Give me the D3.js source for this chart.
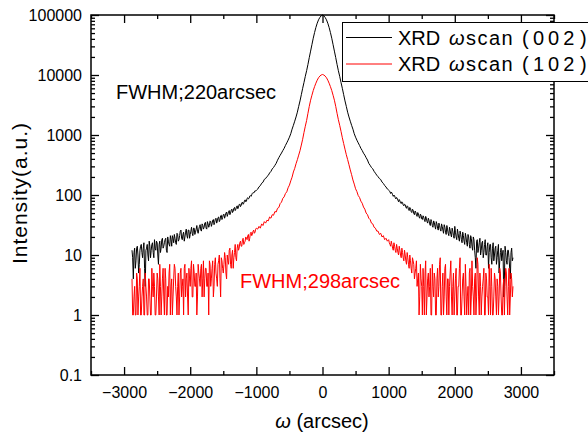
<!DOCTYPE html>
<html>
<head>
<meta charset="utf-8">
<script src="https://cdn.jsdelivr.net/npm/d3@7"></script>
<style>
  body { margin: 0; background: #fff; }
  svg { display: block; font-family: "Liberation Sans", Arial, sans-serif; }
</style>
</head>
<body>
<div id="chart"></div>
<script>
// omega scans, values (counts)
// main samples every 20 arcsec, tails also have the in-between samples (+10)
var step = 20;

// (002) black
var blackLeft = [12,4,13,8,14,5,12,15,9,16, 3,13,10,17,9,15,11,18,12,16, 7,17,13,19,14,18,12,20,15,21,
  14,19,22,16,23,17,21,26,18,24, 20,27,19,26,22,29,21,28,24,31, 23,30,26,33,27,34,28,36,29,37,
  30,38,32,40,34,42,36,45,39,47, 41,50,44,53,47,56,51,60,55,64, 59,69,64,74,70,80,77,88,86,96, 95,107,108,118,119];
var blackLeftMid = [9,11,6,13,10,7,14,11,13,6, 12,15,8,14,12,16,9,13,17,10, 15,11,18,13,16,19,11,17,14,18,
  21,16,19,15,22,18,25,19,22,17, 24,21,26,19,25,23,28,22,27,25, 27,32,25,31,29,35,27,33,31,36,
  33,39,35,41,37,43,38,46,42,48, 45,52,48,55,50,58,54,62,58,66, 63,71,67,76,73,83,79,90,88,98, 101,110,112,117];
var blackCore = [125,137,143,157,163,182,188,203,212,233, 247,272,288,312,338,380,420,460,500,550,
  600,670,740,820,920,1050,1250,1450,1700,2000, 2400,3000,3700,4700,6000,7500,9500,11800,15000,19500,
  25000,32000,41000,51000,62000,73000,83000,91000,97000,
  100000,
  97000,91000,83000,73000,62000,51000,41000,32000,25000,19500, 15000,11800,9500,7500,6000,4700,3700,3000,2400,2000,
  1700,1450,1250,1050,920,820,740,670,600,552, 498,462,418,383,336,313,287,273,248,231,
  214,202,188,181,164,156,144,136,126];
var blackRight = [121,113,112,101,100,90,91,82,84,74, 77,68,70,63,66,57,62,53,58,49, 54,46,51,43,48,40,45,38,44,36,
  41,33,39,31,37,30,36,28,34,27, 33,26,32,24,31,23,29,22,28,21, 30,20,27,19,25,18,24,17,23,16,
  22,15,21,14,20,12,6,18,13,19, 12,17,11,18,10,16,11,15,7,16, 10,14,9,15,8,13,10,2,14,8, 12,9,4,13,9];
var blackRightMid = [118,106,108,95,97,86,88,77,80,72, 75,66,69,60,64,55,60,51,56,47, 52,44,49,41,46,39,43,36,41,34,
  38,31,36,29,35,27,33,26,31,25, 30,23,29,22,27,21,26,20,25,19, 24,18,23,17,22,16,21,15,20,14,
  20,13,19,12,18,9,17,11,16,10, 16,9,15,10,14,6,15,9,13,8, 13,7,12,5,11,8,12,4,11,7, 12,6,11,8];

// (102) red
var redLeft = [4,1,3,1,4,2,6,1,3,1, 5,2,1,4,1,6,2,3,1,5, 2,7,1,4,2,6,1,3,5,1, 4,2,7,3,1,5,2,6,3,1,
  7,4,2,6,3,8,2,5,3,1, 7,4,6,2,8,4,6,3,1,7, 4,8,3,9,4,7,10,2,8,5, 11,5,10,7,13,6,12,9,15,8,
  15,13,17,14,19,16,20,18,22,19, 24,22,26,24,28];
var redLeftMid = [1,2,1,5,1,3,1,2,4,1, 3,1,4,2,1,3,5,1,2,4, 1,3,2,6,1,4,1,2,7,3, 1,4,6,2,3,1,5,2,4,6,
  2,5,1,4,6,2,7,3,5,2, 5,3,7,4,2,6,3,5,8,3, 6,2,7,5,3,8,4,9,6,7, 9,4,8,12,7,10,6,11,9,13,
  12,16,14,18,15,17,19,21,17,23, 21,25,23,27];
var redCore = [27,30,28,33,31,36,34,38,37,43, 41,47,46,53,52,60,62,72,76,88, 93,106,113,132,146,172,198,242,278,332,
  388,462,548,680,850,1100,1400,1750,2300,3000, 3800,4600,5500,6400,7300,8200,9000,9600,10000,
  10200,
  10000,9600,9000,8200,7300,6400,5500,4600,3800,3000, 2300,1800,1450,1150,900,720,580,470,390,320,
  262,218,178,152,127,114,98,91,79,73, 63,58,50,47,41,39,34,33,29,28, 25,25,22,23,20,21,18,19,17];
var redRight = [18,15,17,13,16,12,15,11,14,10, 13,9,12,8,11,7,10,6,9,7, 5,8,4,1,7,3,6,1,8,2,
  5,3,1,7,2,4,1,6,3,9, 1,5,2,7,1,4,3,8,1,5, 2,6,1,3,9,1,4,2,7,1, 3,5,1,8,2,4,1,9,2,5,
  1,3,6,1,4,2,7,1,3,1, 5,2,4,1,6,2,1,4,3,5, 1,6,2,4,3];
var redRightMid = [16,14,15,12,14,11,13,10,12,9, 11,8,10,7,9,6,8,5,8,4, 6,3,5,2,4,1,3,5,1,4,
  2,6,1,3,5,1,4,2,7,1, 3,1,6,2,4,1,5,2,3,1, 4,1,3,6,1,2,5,1,3,2, 1,6,2,3,1,5,2,7,1,3,
  2,4,1,5,2,1,3,6,1,2, 4,1,3,2,5,1,3,1,6,2, 3,1,5,2];

var xTicks = [-3000, -2000, -1000, 0, 1000, 2000, 3000];
var yTicks = [0.1, 1, 10, 100, 1000, 10000, 100000];
var legendNums = ["002", "102"];

(function () {
  function toPoints(segs) {
    var pts = [];
    segs.forEach(function (s) {
      s.vals.forEach(function (v, i) { pts.push({ w: s.start + i * step, v: v }); });
    });
    return pts.sort(function (a, b) { return a.w - b.w; });
  }
  var black = toPoints([
    { start: -2880, vals: blackLeft }, { start: -2870, vals: blackLeftMid },
    { start: -980, vals: blackCore },
    { start: 1000, vals: blackRight }, { start: 1010, vals: blackRightMid }]);
  var red = toPoints([
    { start: -2880, vals: redLeft }, { start: -2870, vals: redLeftMid },
    { start: -980, vals: redCore },
    { start: 1000, vals: redRight }, { start: 1010, vals: redRightMid }]);

  var W = 588, H = 432;
  var pL = 91, pR = 554, pT = 15, pB = 375;

  var svg = d3.select("#chart").append("svg").attr("width", W).attr("height", H);
  svg.append("rect").attr("width", W).attr("height", H).attr("fill", "#fff");

  var x = d3.scaleLinear().domain([-3500, 3500]).range([pL, pR]);
  var y = d3.scaleLog().domain([0.1, 100000]).range([pB, pT]);

  // minor ticks
  var xMinor = [-3500, -2500, -1500, -500, 500, 1500, 2500, 3500];
  var yMinor = [];
  for (var k = -1; k < 5; k++) {
    for (var m = 2; m < 10; m++) yMinor.push(m * Math.pow(10, k));
  }

  var line = d3.line().x(function (d) { return x(d.w); }).y(function (d) { return y(d.v); });

  svg.append("path").datum(black).attr("d", line)
    .attr("fill", "none").attr("stroke", "#000").attr("stroke-width", 1);
  svg.append("path").datum(red).attr("d", line)
    .attr("fill", "none").attr("stroke", "#ff0000").attr("stroke-width", 1);

  function styleAxis(g) {
    g.select(".domain").remove();
    g.selectAll("line").attr("stroke", "#000").attr("stroke-width", 1.3);
    g.selectAll("text").attr("fill", "#000").style("font-size", "16px");
  }
  var fmtX = d3.format("d");

  // bottom
  svg.append("g").attr("transform", "translate(0," + pB + ")")
    .call(d3.axisBottom(x).tickValues(xTicks).tickSize(-8).tickPadding(12).tickFormat(fmtX)).call(styleAxis);
  svg.append("g").attr("transform", "translate(0," + pB + ")")
    .call(d3.axisBottom(x).tickValues(xMinor).tickSize(-4).tickFormat("")).call(styleAxis);
  // top
  svg.append("g").attr("transform", "translate(0," + pT + ")")
    .call(d3.axisTop(x).tickValues(xTicks).tickSize(-8).tickFormat("")).call(styleAxis);
  svg.append("g").attr("transform", "translate(0," + pT + ")")
    .call(d3.axisTop(x).tickValues(xMinor).tickSize(-4).tickFormat("")).call(styleAxis);
  // left
  svg.append("g").attr("transform", "translate(" + pL + ",0)")
    .call(d3.axisLeft(y).tickValues(yTicks).tickSize(-8).tickPadding(9)
      .tickFormat(function (d) { return d < 1 ? "0.1" : String(Math.round(d)); })).call(styleAxis);
  svg.append("g").attr("transform", "translate(" + pL + ",0)")
    .call(d3.axisLeft(y).tickValues(yMinor).tickSize(-4).tickFormat("")).call(styleAxis);
  // right
  svg.append("g").attr("transform", "translate(" + pR + ",0)")
    .call(d3.axisRight(y).tickValues(yTicks).tickSize(-8).tickFormat("")).call(styleAxis);
  svg.append("g").attr("transform", "translate(" + pR + ",0)")
    .call(d3.axisRight(y).tickValues(yMinor).tickSize(-4).tickFormat("")).call(styleAxis);

  // frame
  svg.append("rect").attr("x", pL).attr("y", pT).attr("width", pR - pL).attr("height", pB - pT)
    .attr("fill", "none").attr("stroke", "#000").attr("stroke-width", 1.5);

  // annotations
  svg.append("text").attr("x", 116).attr("y", 99).style("font-size", "20px").attr("fill", "#000")
    .text("FWHM;220arcsec");
  svg.append("text").attr("x", 240).attr("y", 288).style("font-size", "20px").attr("fill", "#ff0000")
    .text("FWHM;298arcsec");

  // axis titles
  svg.append("text").attr("transform", "translate(27,193) rotate(-90)").attr("text-anchor", "middle")
    .style("font-size", "21px").style("letter-spacing", "1px").text("Intensity(a.u.)");
  var xt = svg.append("text").attr("x", 322).attr("y", 428).attr("text-anchor", "middle").style("font-size", "20px");
  xt.append("tspan").style("font-style", "italic").text("ω");
  xt.append("tspan").text(" (arcsec)");

  // legend
  var lg = svg.append("g");
  lg.append("rect").attr("x", 342.5).attr("y", 22.5).attr("width", 280).attr("height", 59)
    .attr("fill", "#fff").attr("stroke", "#000").attr("stroke-width", 1);
  var legendColors = ["#000", "#ff0000"];
  legendNums.forEach(function (num, i) {
    var ly = 37.5 + i * 26.5;
    lg.append("line").attr("x1", 346).attr("x2", 392).attr("y1", ly).attr("y2", ly)
      .attr("stroke", legendColors[i]).attr("stroke-width", 1);
    var t = lg.append("text").attr("y", ly + 7).style("font-size", "20px").attr("fill", "#000");
    t.append("tspan").attr("x", 398).text("XRD");
    t.append("tspan").attr("x", 449).style("font-style", "italic").text("ω");
    t.append("tspan").attr("x", 466).style("letter-spacing", "1.5px").text("scan");
    t.append("tspan").attr("x", 522).text("(");
    t.append("tspan").attr("x", 533).style("letter-spacing", "4px").text(num);
    t.append("tspan").attr("x", 580).text(")");
  });
})();
</script>
</body>
</html>
